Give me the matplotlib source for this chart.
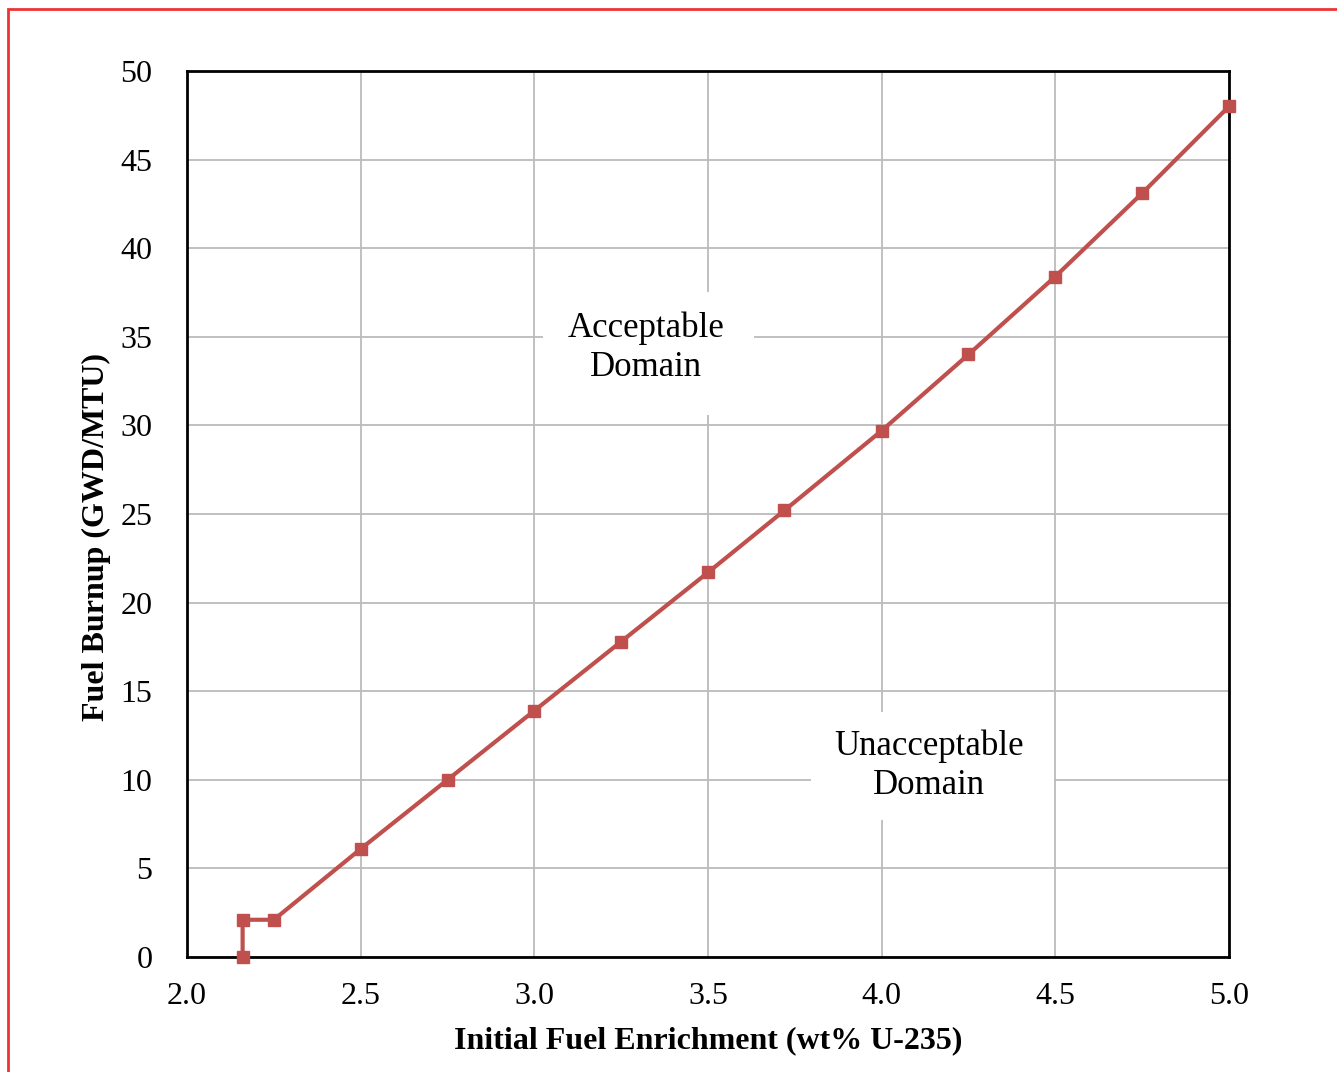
import matplotlib
matplotlib.use('Agg')
import matplotlib.pyplot as plt
from matplotlib.patches import Rectangle

# 数据
enrichment = [2.16, 2.16, 2.25, 2.5, 2.75, 3.0, 3.25, 3.5, 3.72, 4.0, 4.25, 4.5, 4.75, 5.0]
burnup = [0.0, 2.1, 2.1, 6.1, 10.0, 13.9, 17.8, 21.7, 25.2, 29.7, 34.0, 38.4, 43.1, 48.0]
x_ticks = [2.0, 2.5, 3.0, 3.5, 4.0, 4.5, 5.0]
y_ticks = [0, 5, 10, 15, 20, 25, 30, 35, 40, 45, 50]

plt.rcParams['font.family'] = ['Liberation Serif', 'DejaVu Serif']

fig = plt.figure(figsize=(13.37, 10.72), dpi=100)
ax = fig.add_axes([0.1399, 0.1073, 0.9192 - 0.1399, 0.9338 - 0.1073])

ax.plot(enrichment, burnup, color='#C0504D', linewidth=3.0, marker='s',
        markersize=8, zorder=3, clip_on=False)

ax.set_xlim(2.0, 5.0)
ax.set_ylim(0, 50)
ax.set_xticks(x_ticks)
ax.set_xticklabels([f'{v:.1f}' for v in x_ticks])
ax.set_yticks(y_ticks)
ax.grid(True, color='#BBBBBB', linewidth=1.3, zorder=0)
ax.set_axisbelow(True)
ax.tick_params(length=0, labelsize=23)
ax.tick_params(axis='x', pad=18)
ax.tick_params(axis='y', pad=25)
for s in ax.spines.values():
    s.set_linewidth(2)
    s.set_color('black')

ax.set_xlabel('Initial Fuel Enrichment (wt% U-235)', fontsize=23,
              fontweight='bold', labelpad=11)
ax.set_ylabel('Fuel Burnup (GWD/MTU)', fontsize=23, fontweight='bold',
              labelpad=7, y=0.474)

# 区域标注 (白底遮住网格)
ax.add_patch(Rectangle((3.025, 30.6), 0.608, 6.95, facecolor='white',
                       edgecolor='none', zorder=1.5))
ax.text(3.322, 34.4, 'Acceptable\nDomain', fontsize=25, ha='center', va='center',
        linespacing=1.25, zorder=2)
ax.add_patch(Rectangle((3.797, 7.75), 0.698, 6.1, facecolor='white',
                       edgecolor='none', zorder=1.5))
ax.text(4.137, 10.8, 'Unacceptable\nDomain', fontsize=25, ha='center', va='center',
        linespacing=1.25, zorder=2)

# 外框
fig.patches.append(Rectangle((8 / 1337, -0.05), 1.1, 1 - 9 / 1072 + 0.05,
                             transform=fig.transFigure, fill=False,
                             edgecolor='#EE3333', linewidth=2))

fig.savefig('out.png', dpi=100)
